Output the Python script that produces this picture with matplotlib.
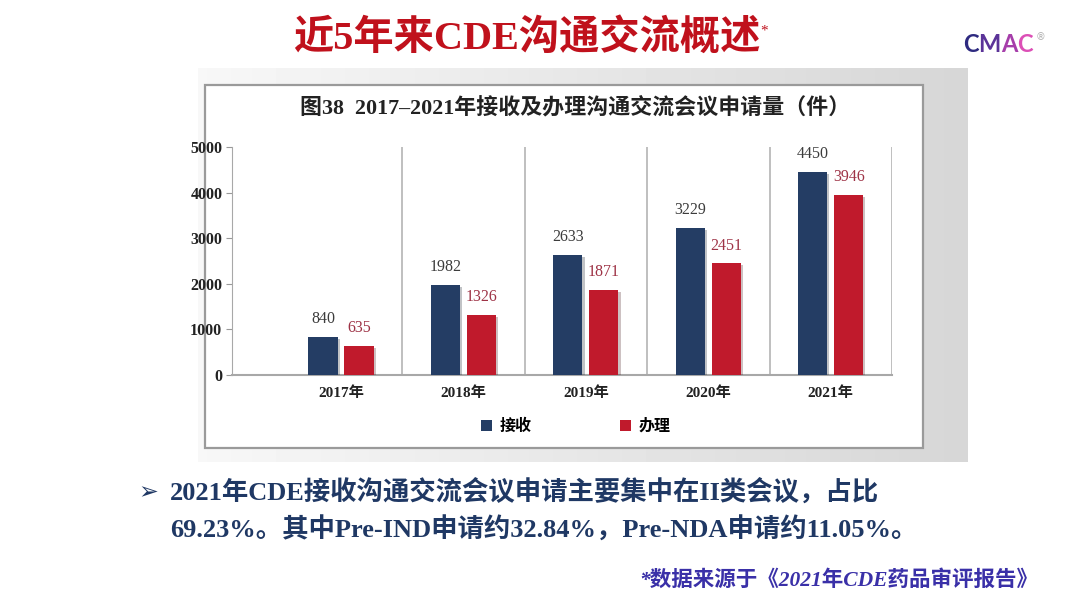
import numpy as np
import matplotlib
matplotlib.use("Agg")
import matplotlib.pyplot as plt
import matplotlib.patheffects as pe
from matplotlib.patches import Rectangle

plt.rcParams["font.family"] = ["Liberation Serif", "Noto Sans CJK SC", "DejaVu Sans"]

# data
years = ["2017年", "2018年", "2019年", "2020年", "2021年"]
received = [840, 1982, 2633, 3229, 4450]
handled = [635, 1326, 1871, 2451, 3946]
series_names = ["接收", "办理"]
y_ticks = [0, 1000, 2000, 3000, 4000, 5000]

slide_title = "近5年来CDE沟通交流概述"
chart_title = "图38  2017–2021年接收及办理沟通交流会议申请量（件）"
bullet_lines = [
    "2021年CDE接收沟通交流会议申请主要集中在II类会议，占比",
    "69.23%。其中Pre-IND申请约32.84%，Pre-NDA申请约11.05%。",
]
source_note = "*数据来源于《2021年CDE药品审评报告》"
logo_letters = ["C", "M", "A", "C"]
logo_colors = ["#2e2a80", "#5b3398", "#a63eaa", "#dc4fb6"]

navy = "#243d64"
red = "#c01a2c"

fig = plt.figure(figsize=(10.8, 6.08), dpi=100)
fig.patch.set_facecolor("white")

# background layer in pixel coordinates
bg = fig.add_axes([0, 0, 1, 1])
bg.axis("off")
grad = np.linspace(0.97, 0.84, 256).reshape(1, -1)
bg.imshow(grad, extent=(198, 968, 462, 68), cmap="gray", vmin=0, vmax=1,
          aspect="auto", zorder=0)
bg.add_patch(Rectangle((205, 85), 718, 363, facecolor="white",
                       edgecolor="#9a9a9a", lw=1.6, zorder=1))
bg.set_xlim(0, 1080)
bg.set_ylim(608, 0)

# slide title
t = bg.text(527, 38, slide_title, ha="center", va="center", fontsize=29,
            weight="bold", color="#c0111c")
bg.annotate("*", xy=(1, 0.85), xycoords=t, ha="left", va="top",
            fontsize=11, color="#c0111c")

# logo
prev = bg.text(963, 44, logo_letters[0], ha="left", va="center",
               fontsize=17, weight="bold", family="Lato", color=logo_colors[0])
for letter, col in zip(logo_letters[1:], logo_colors[1:]):
    prev = bg.annotate(letter, xy=(1, 0), xycoords=prev, ha="left",
                       va="bottom", fontsize=17, weight="bold",
                       family="Lato", color=col)
bg.annotate("®", xy=(1, 1), xycoords=prev, xytext=(2, 0),
            textcoords="offset points", ha="left", va="top",
            fontsize=7, family="DejaVu Sans", color="#b0b0b0")

# chart title
bg.text(575, 108, chart_title, ha="center", va="center", fontsize=15.8,
        weight="bold", color="#222222")

# bullet text
bg.text(138, 492, "➢", ha="left", va="center", fontsize=17,
        family="DejaVu Sans", color="#1f3864")
bg.text(170, 492, bullet_lines[0], ha="left", va="center", fontsize=19,
        weight="bold", color="#1f3864")
bg.text(170, 530, bullet_lines[1], ha="left", va="center", fontsize=19,
        weight="bold", color="#1f3864")

# source note
bg.text(1038, 580, source_note, ha="right", va="center", fontsize=15.5,
        style="italic", weight="bold", color="#3a30a8")

# bar chart
ax = fig.add_axes([232 / 1080, 1 - 375 / 608, (892 - 232) / 1080, (375 - 147) / 608])
ax.set_facecolor("none")
x = np.arange(len(years))
off = 0.147
w = 0.238
shadow = [pe.SimplePatchShadow(offset=(1.5, -1.5), alpha=0.25), pe.Normal()]
b1 = ax.bar(x - off, received, w, color=navy, label=series_names[0],
            path_effects=shadow, zorder=3)
b2 = ax.bar(x + off, handled, w, color=red, label=series_names[1],
            path_effects=shadow, zorder=3)

for xi, v in zip(x, received):
    ax.annotate(str(v), (xi - off, v), xytext=(0, 7), textcoords="offset points",
                ha="center", va="bottom", fontsize=11.5, color="#3c3c3c")
for xi, v in zip(x, handled):
    ax.annotate(str(v), (xi + off, v), xytext=(0, 7), textcoords="offset points",
                ha="center", va="bottom", fontsize=11.5, color="#9e3346")

for sep in np.arange(len(years)) + 0.5:
    ax.axvline(sep, color="#b4b4b4", lw=1.2, zorder=1)

ax.set_xlim(-0.89, len(years) - 0.5)
ax.set_ylim(0, 5000)
ax.set_yticks(y_ticks)
ax.set_yticklabels([str(v) for v in y_ticks], fontsize=11.5, weight="bold",
                   color="#222222")
ax.set_xticks(x)
ax.set_xticklabels(years, fontsize=11, weight="bold", color="#222222")
ax.tick_params(axis="x", length=0, pad=8)
ax.tick_params(axis="y", length=4, direction="out", color="#999999", pad=3)
for s in ["top", "right"]:
    ax.spines[s].set_visible(False)
ax.spines["left"].set_color("#a8a8a8")
ax.spines["bottom"].set_color("#a8a8a8")
ax.spines["bottom"].set_linewidth(1.5)

leg = fig.legend(handles=[b1, b2], labels=series_names, loc="center",
                 bbox_to_anchor=(576 / 1080, 1 - 427 / 608), ncol=2,
                 frameon=False, handlelength=0.7, handleheight=0.7,
                 handletextpad=0.5, columnspacing=5.5,
                 prop={"size": 11.5, "weight": "bold"})
for h in leg.legend_handles:
    h.set_path_effects([])

fig.savefig("out.png", dpi=100)
